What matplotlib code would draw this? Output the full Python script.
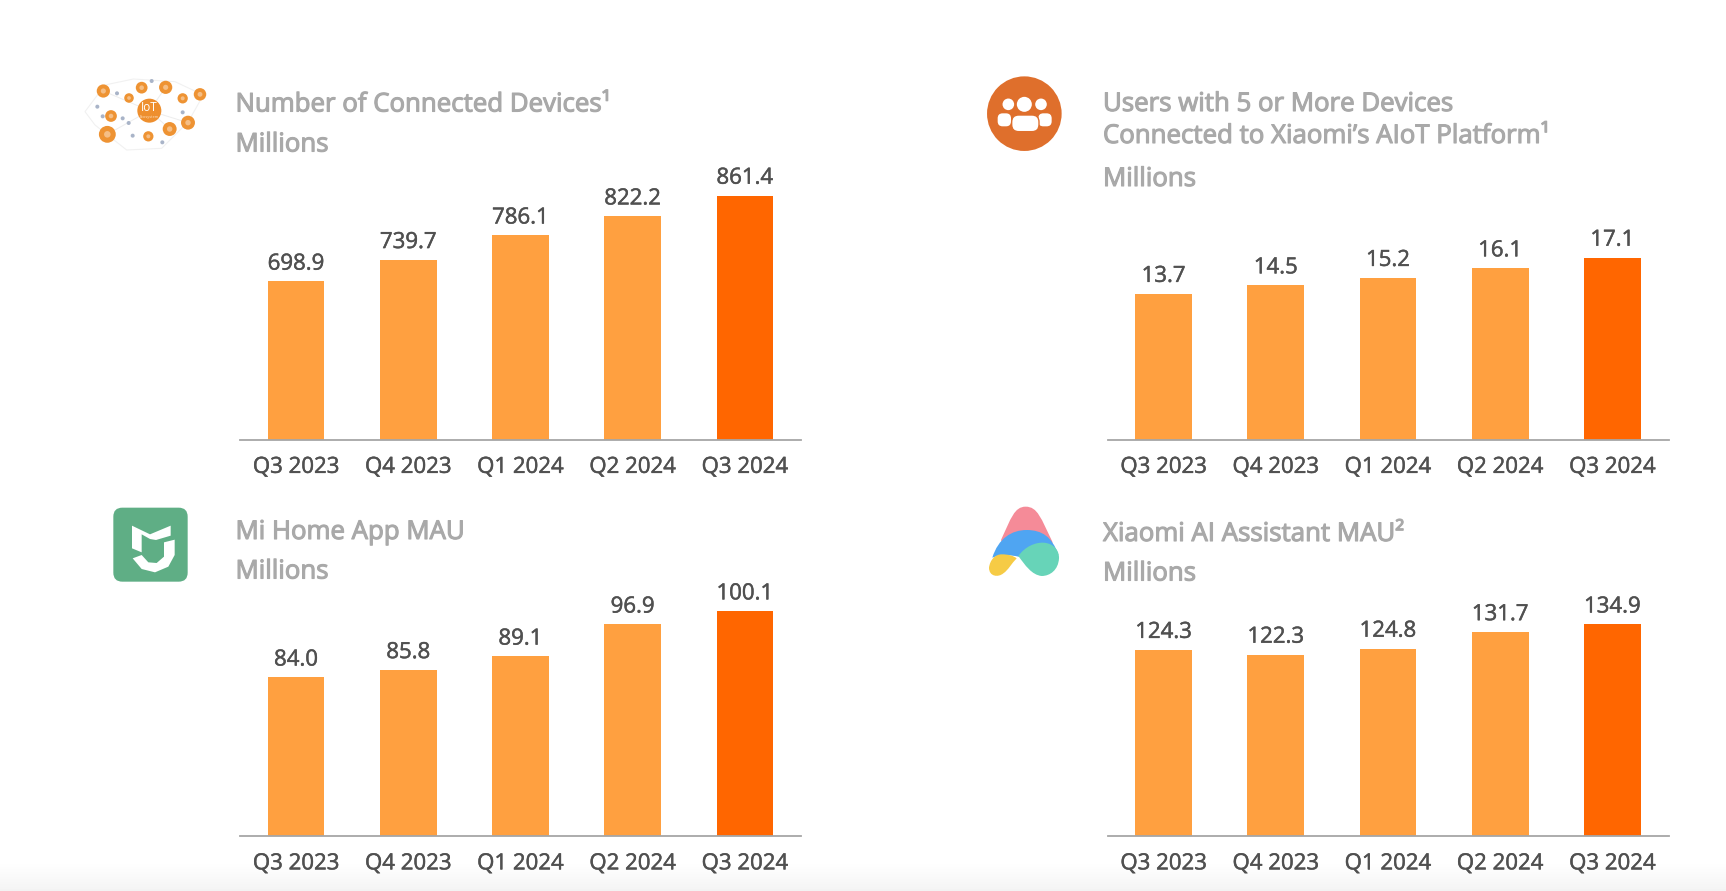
import matplotlib
matplotlib.use('Agg')
import matplotlib.pyplot as plt
import matplotlib.patheffects as pe
from matplotlib.patches import Circle, FancyBboxPatch, PathPatch, Polygon
from matplotlib.path import Path
import numpy as np

plt.rcParams['font.family'] = ['Open Sans', 'DejaVu Sans']

quarters = ['Q3 2023', 'Q4 2023', 'Q1 2024', 'Q2 2024', 'Q3 2024']
connected_devices = [698.9, 739.7, 786.1, 822.2, 861.4]
users_5_devices = [13.7, 14.5, 15.2, 16.1, 17.1]
mi_home_mau = [84.0, 85.8, 89.1, 96.9, 100.1]
ai_assistant_mau = [124.3, 122.3, 124.8, 131.7, 134.9]

W, H = 1726, 891
LIGHT = '#FFA040'
DARK = '#FF6600'
GREY = '#A9A9A9'
DARKTEXT = '#505050'

fig = plt.figure(figsize=(W / 100, H / 100), dpi=100, facecolor='white')

# overlay in pixel coords for icons and the headings
bg = fig.add_axes([0, 0, 1, 1])
bg.set_xlim(0, W)
bg.set_ylim(H, 0)
bg.axis('off')


def thick(color, w):
    return [pe.withStroke(linewidth=w, foreground=color)]


def panel(values, left, base_y, ymin, per_px, title_lines, millions_y):
    width, height = 561, 300
    ax = fig.add_axes([left / W, 1 - base_y / H, width / W, height / H])
    ax.patch.set_alpha(0)
    colors = [LIGHT] * 4 + [DARK]
    bars = ax.bar(range(5), values, width=0.505, color=colors, linewidth=0)
    ax.set_xlim(-0.5, 4.5)
    ax.set_ylim(ymin, ymin + height / 1.1013 * per_px)
    for s in ['top', 'left', 'right']:
        ax.spines[s].set_visible(False)
    ax.spines['bottom'].set_color('#A6A6A6')
    ax.spines['bottom'].set_linewidth(1.3)
    ax.set_yticks([])
    ax.set_xticks(range(5))
    ax.set_xticklabels(quarters, fontsize=16, color=DARKTEXT, path_effects=thick(DARKTEXT, 0.35))
    ax.tick_params(axis='x', length=0, pad=12.5)
    for b, v in zip(bars, values):
        ax.annotate(f'{v:.1f}', (b.get_x() + b.get_width() / 2, v), xytext=(0, 12.5),
                    textcoords='offset points', ha='center', va='center',
                    fontsize=16, color=DARKTEXT, path_effects=thick(DARKTEXT, 0.35))
    text_x = left - 4.5
    for line, y in title_lines:
        bg.text(text_x, y, line, fontsize=18.6, color=GREY, va='center', ha='left',
                path_effects=thick(GREY, 0.8))
    bg.text(text_x, millions_y, 'Millions', fontsize=18.6, color=GREY, va='center', ha='left',
            path_effects=thick(GREY, 0.8))


panel(connected_devices, 240, 439.5, 400, 2.083,
      [('Number of Connected Devices¹', 105)], 145)
panel(users_5_devices, 1107.5, 439.5, 0, 0.1035,
      [('Users with 5 or More Devices', 104.5), ('Connected to Xiaomi’s AIoT Platform¹', 136.5)], 179.5)
panel(mi_home_mau, 240, 836, 45.4, 0.268,
      [('Mi Home App MAU', 532.5)], 572)
panel(ai_assistant_mau, 1107.5, 836, 46.5, 0.46,
      [('Xiaomi AI Assistant MAU²', 534.5)], 574)

# IoT icon
iot_big = [(85, 78, 18), (200, 68, 16), (272, 67, 18), (375, 88, 17), (323, 100, 14), (162, 99, 13),
           (108, 153, 16), (97, 208, 23), (220, 214, 14), (284, 192, 19), (339, 173, 19)]
iot_dots = [(126, 85), (230, 48), (67, 125), (83, 154), (143, 160), (161, 174), (173, 212), (262, 232), (323, 142)]
ix = lambda v: 75 + v / 3
iy = lambda v: 65 + v / 3
outline = [(30, 140), (90, 60), (175, 42), (300, 50), (385, 90), (340, 170), (260, 250), (155, 255), (60, 180)]
bg.add_patch(Polygon([(ix(a), iy(b)) for a, b in outline], closed=True, fill=False, ec='#F1F1F1', lw=0.8))
for a, b, c in [(85, 78, 223), (272, 67, 223), (97, 208, 223), (339, 173, 223), (284, 192, 223)]:
    bg.plot([ix(a), ix(c)], [iy(b), iy(137)], color='#EDEDED', lw=0.7, zorder=0.5)
for a, b, r in iot_big:
    bg.add_patch(Circle((ix(a), iy(b)), r / 3 * 1.1, fc='#EE9333', ec='none'))
    bg.add_patch(Circle((ix(a), iy(b)), r / 7, fc='#F5BE85', ec='none'))
for a, b in iot_dots:
    bg.add_patch(Circle((ix(a), iy(b)), 2, fc='#A9B4C8', ec='none'))
bg.add_patch(Circle((ix(223), iy(137)), 12, fc='#EE8F2E', ec='none'))
bg.text(ix(223), iy(127), 'IoT', fontsize=8.5, color='white', ha='center', va='center')
bg.text(ix(223), iy(155), 'Ecosystem', fontsize=2.8, color='#FBE3C8', ha='center', va='center')

# people icon
px = lambda v: 975 + v / 3
py = lambda v: 65 + v / 3
bg.add_patch(Circle((px(148), py(146)), 37.3, fc='#DF6F2C', ec='none'))
for x0, x1, y0, y1 in [(68, 108, 145, 184), (190, 230, 145, 184)]:
    bg.add_patch(FancyBboxPatch((px(x0) + 5, py(y0) + 5), (x1 - x0) / 3 - 10, (y1 - y0) / 3 - 10,
                                boxstyle='round,pad=5,rounding_size=5', fc='white', ec='none'))
bg.add_patch(Circle((px(100), py(118)), 5.8, fc='white', ec='none'))
bg.add_patch(Circle((px(198), py(118)), 5.8, fc='white', ec='none'))
bg.add_patch(FancyBboxPatch((px(110) + 7, py(150) + 7), 82 / 3 - 14, 50 / 3 - 14,
                            boxstyle='round,pad=7,rounding_size=7', fc='white', ec='#DF6F2C', lw=1))
bg.add_patch(Circle((px(148), py(118)), 7.5, fc='white', ec='none'))

# mi home icon
mx = lambda v: 100 + v / 3
my = lambda v: 495 + v / 3
bg.add_patch(FancyBboxPatch((mx(40) + 9, my(38) + 9), 223 / 3 - 18, 222 / 3 - 18,
                            boxstyle='round,pad=9,rounding_size=9', fc='#5FAE85', ec='none'))
mi_top = [(96, 92), (150, 118), (212, 92), (212, 122), (168, 135), (150, 132), (125, 118), (125, 172), (96, 160)]
mi_hook = [(192, 142), (224, 134), (224, 180), (205, 215), (165, 232), (125, 222), (98, 190), (125, 180),
           (145, 202), (170, 204), (192, 185)]
for shape in [mi_top, mi_hook]:
    bg.add_patch(Polygon([(mx(a), my(b)) for a, b in shape], closed=True, fc='white', ec='none'))

# xiaomi AI icon
ax_ = lambda v: 975 + v / 3
ay_ = lambda v: 495 + v / 3


def blob(verts, color):
    pts = [(ax_(a), ay_(b)) for a, b in verts] + [(ax_(verts[0][0]), ay_(verts[0][1]))]
    codes = [Path.MOVETO] + [Path.CURVE4] * (len(verts) - 1) + [Path.CLOSEPOLY]
    bg.add_patch(PathPatch(Path(pts, codes), fc=color, ec='none'))


blob([(78, 135), (108, 70), (118, 35), (152, 35), (188, 35), (198, 70), (232, 140),
      (240, 175), (90, 180), (78, 135)], '#F58B98')
blob([(52, 188), (70, 130), (110, 105), (155, 105), (200, 105), (232, 125), (250, 180),
      (200, 175), (170, 195), (130, 185), (110, 180), (80, 178), (52, 188)], '#4FA5F2')
blob([(130, 183), (150, 155), (180, 142), (205, 143), (240, 145), (253, 170), (252, 190),
      (250, 225), (225, 243), (200, 243), (170, 240), (150, 210), (130, 183)], '#67D4B8')
blob([(42, 218), (45, 195), (60, 178), (80, 178), (100, 178), (115, 182), (125, 190),
      (110, 205), (100, 225), (85, 235), (70, 248), (42, 245), (42, 218)], '#F6CB45')

# faint grey band along the bottom edge
grad = np.linspace(1, 0.955, 30).reshape(-1, 1)
bg.imshow(grad, extent=(0, W, H, H - 30), cmap='gray', vmin=0, vmax=1, aspect='auto', zorder=0)
bg.set_xlim(0, W)
bg.set_ylim(H, 0)

fig.savefig('out.png', dpi=100)
